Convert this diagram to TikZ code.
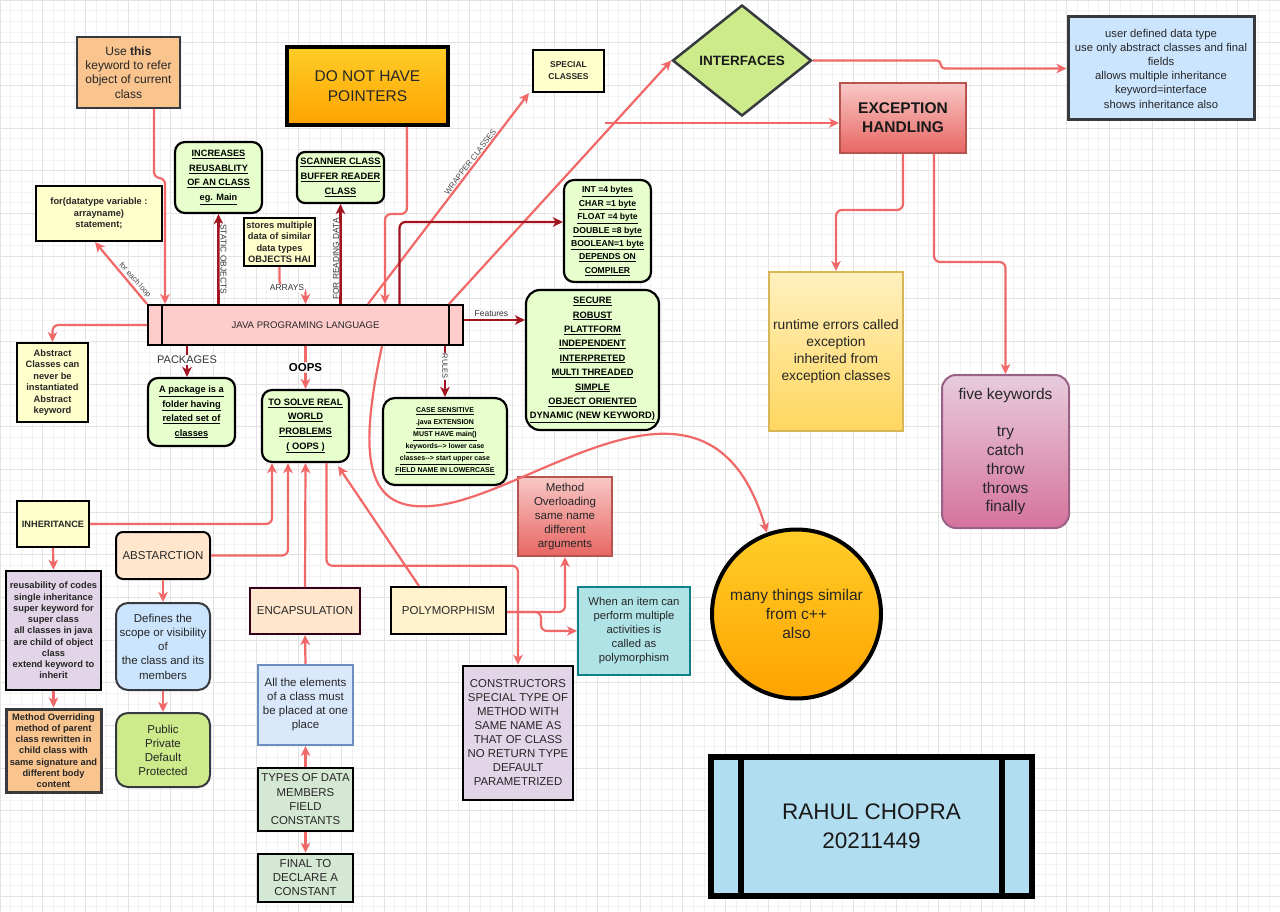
\documentclass[tikz,border=0pt]{standalone}
\usepackage{fontspec}
\setmainfont{Liberation Sans}
\usetikzlibrary{arrows.meta,shapes.geometric,calc}
\newcommand\fsz[2]{\fontsize{#1}{#2}\selectfont}
\newcommand\uln[1]{\underline{#1}}
\definecolor{lred}{RGB}{240,104,104}
\definecolor{dred}{RGB}{162,20,32}
\definecolor{dgray}{RGB}{54,57,61}
\definecolor{lyel}{RGB}{255,255,204}
\definecolor{lgreen}{RGB}{230,255,204}
\definecolor{peach}{RGB}{250,196,142}
\definecolor{orgtop}{RGB}{255,205,40}
\definecolor{orgbot}{RGB}{255,163,0}
\definecolor{jpink}{RGB}{255,204,204}
\definecolor{igreen}{RGB}{205,235,139}
\definecolor{ublue}{RGB}{204,229,255}
\definecolor{rtop}{RGB}{248,200,198}
\definecolor{rbot}{RGB}{232,102,98}
\definecolor{rdraw}{RGB}{184,84,80}
\definecolor{ytop}{RGB}{255,240,190}
\definecolor{ybot}{RGB}{255,214,95}
\definecolor{ydraw}{RGB}{214,182,86}
\definecolor{ptop}{RGB}{232,204,222}
\definecolor{pbot}{RGB}{213,115,157}
\definecolor{pdraw}{RGB}{153,97,133}
\definecolor{rblue}{RGB}{177,221,240}
\definecolor{lpurple}{RGB}{225,213,231}
\definecolor{lorange}{RGB}{255,230,204}
\definecolor{encd}{RGB}{51,0,26}
\definecolor{eblue}{RGB}{218,232,252}
\definecolor{eborder}{RGB}{108,142,191}
\definecolor{dgreen}{RGB}{213,232,212}
\definecolor{lcream}{RGB}{255,242,204}
\definecolor{teal1}{RGB}{176,227,230}
\definecolor{teal2}{RGB}{14,128,136}
\tikzset{
  box/.style={draw=black, inner sep=0pt, align=center, text=black!85, line width=2pt},
  gbox/.style={box, fill=lgreen, line width=2.2pt, rounded corners=10pt, text=black},
  lr/.style={draw=lred, line width=2.2pt, rounded corners=6pt, -{Stealth[length=10pt,width=9.5pt,inset=2.8pt]}},
  dr/.style={lr, draw=dred},
  elabel/.style={fill=white, inner sep=1pt, text=black!80},
  gminor/.style={draw=black!5, line width=0.5pt},
  gmajor/.style={draw=black!11, line width=0.6pt},
}
\begin{document}
\begin{tikzpicture}[x=1pt,y=-1pt]
\useasboundingbox (0,0) rectangle (1280,912);
\fill[white] (0,0) rectangle (1280,912);
\foreach \i in {0,...,120} {\draw[gminor] (\i*10.667,0) -- (\i*10.667,912);}
\foreach \j in {0,...,86} {\draw[gminor] (0,\j*10.667) -- (1280,\j*10.667);}
\foreach \i in {0,...,30} {\draw[gmajor] (\i*42.667,0) -- (\i*42.667,912);}
\foreach \j in {0,...,21} {\draw[gmajor] (0,\j*42.667) -- (1280,\j*42.667);}

% ---------- nodes ----------
\node[box, fill=peach, draw=dgray, minimum width=103pt, minimum height=71pt, font=\fsz{12}{14.2}] (thisb) at (128.5,72.5) {Use \textbf{this}\\keyword to refer\\object of current\\class};
\node[box, fill=lyel, minimum width=126pt, minimum height=55pt, font=\fsz{9.3}{11.3}\bfseries] (forb) at (99,213.5) {for(datatype variable :\\arrayname)\\statement;};
\node[gbox, minimum width=87pt, minimum height=71pt, font=\fsz{9.2}{14.5}\bfseries] (incr) at (218.5,177.5) {\uln{INCREASES}\\\uln{REUSABLITY}\\\uln{OF AN CLASS}\\\uln{eg. Main}};
\node[box, top color=orgtop, bottom color=orgbot, line width=4pt, minimum width=161pt, minimum height=78pt, font=\fsz{15.5}{19.5}] (ptr) at (367.5,86) {DO NOT HAVE\\POINTERS};
\node[box, fill=lyel, minimum width=71pt, minimum height=42pt, font=\fsz{8.5}{12}\bfseries] (spec) at (568.5,71) {SPECIAL\\CLASSES};
\node[gbox, rounded corners=8pt, minimum width=87pt, minimum height=51pt, font=\fsz{9.3}{15}\bfseries] (scan) at (340.5,177.5) {\uln{SCANNER CLASS}\\\uln{BUFFER READER}\\\uln{CLASS}};
\node[box, fill=lyel, minimum width=71pt, minimum height=48pt, font=\fsz{9.3}{11.5}\bfseries] (stor) at (279.5,242) {stores multiple\\data of similar\\data types\\OBJECTS HAI};
\node[gbox, minimum width=87pt, minimum height=102pt, font=\fsz{8.6}{13.4}\bfseries] (intb) at (607.5,231) {\uln{INT =4 bytes}\\\uln{CHAR =1 byte}\\\uln{FLOAT =4 byte}\\\uln{DOUBLE =8 byte}\\\uln{BOOLEAN=1 byte}\\\uln{DEPENDS ON}\\\uln{COMPILER}};
\node[box, fill=jpink, minimum width=315pt, minimum height=40pt, font=\fsz{9.6}{11}] (java) at (305.5,325) {JAVA PROGRAMING LANGUAGE};
\draw[line width=2pt] ([xshift=15pt]java.north west) -- ([xshift=15pt]java.south west);
\draw[line width=2pt] ([xshift=-15pt]java.north east) -- ([xshift=-15pt]java.south east);
\node[box, fill=lyel, minimum width=71pt, minimum height=79pt, font=\fsz{9.3}{11.4}\bfseries] (abst) at (52.5,382.5) {Abstract\\Classes can\\never be\\instantiated\\Abstract\\keyword};
\node[gbox, minimum width=87pt, minimum height=68pt, font=\fsz{9.3}{14.5}\bfseries] (pkg) at (191.5,412) {\uln{A package is a}\\\uln{folder having}\\\uln{related set of}\\\uln{classes}};
\node[gbox, minimum width=87pt, minimum height=72pt, font=\fsz{9.3}{14.7}\bfseries] (solve) at (305.5,426) {\uln{TO SOLVE REAL}\\\uln{WORLD}\\\uln{PROBLEMS}\\\uln{( OOPS )}};
\node[gbox, rounded corners=12pt, minimum width=124pt, minimum height=87pt, font=\fsz{7}{12}\bfseries] (caseb) at (445,441.5) {\uln{CASE SENSITIVE}\\\uln{.java EXTENSION}\\\uln{MUST HAVE main()}\\\uln{keywords-{}-> lower case}\\\uln{classes-{}-> start upper case}\\\uln{FIELD NAME IN LOWERCASE}};
\node[gbox, rounded corners=14pt, minimum width=133pt, minimum height=140pt, font=\fsz{9.3}{14.4}\bfseries] (feat) at (592.5,360) {\uln{SECURE}\\\uln{ROBUST}\\\uln{PLATTFORM}\\\uln{INDEPENDENT}\\\uln{INTERPRETED}\\\uln{MULTI THREADED}\\\uln{SIMPLE}\\\uln{OBJECT ORIENTED}\\\uln{DYNAMIC (NEW KEYWORD)}};
\node[diamond, draw=dgray, fill=igreen, line width=2.5pt, inner sep=0pt, minimum width=139pt, minimum height=111pt, font=\fsz{13.5}{16}\bfseries, text=black!90] (intf) at (742,60.5) {INTERFACES};
\node[box, fill=ublue, draw=dgray, line width=3pt, minimum width=186pt, minimum height=103pt, font=\fsz{11.3}{14.2}] (udef) at (1161,68.5) {user defined data type\\use only abstract classes and final\\fields\\allows multiple inheritance\\keyword=interface\\shows inheritance also};
\node[box, top color=rtop, bottom color=rbot, draw=rdraw, minimum width=126pt, minimum height=70pt, font=\fsz{15.5}{19}\bfseries, text=black!90] (exc) at (903,118) {EXCEPTION\\HANDLING};
\node[box, top color=ytop, bottom color=ybot, draw=ydraw, minimum width=134pt, minimum height=159pt, font=\fsz{13.8}{17}] (rte) at (836,351.5) {runtime errors called\\exception\\inherited from\\exception classes};
\node[box, top color=ptop, bottom color=pbot, draw=pdraw, rounded corners=14pt, minimum width=127pt, minimum height=153pt, font=\fsz{15.5}{18.8}] (five) at (1005.5,451.5) {five keywords\\\mbox{}\\try\\catch\\throw\\throws\\finally};
\node[circle, draw=black, line width=4pt, top color=orgtop, bottom color=orgbot, minimum size=169pt, inner sep=0pt, align=center, text=black!85, font=\fsz{15.5}{18.7}] (circ) at (796.5,614) {many things similar\\from c++\\also};
\node[box, fill=rblue, line width=6pt, minimum width=321pt, minimum height=139pt, font=\fsz{22.5}{29}, text=black!90] (rahul) at (871.5,826.5) {RAHUL CHOPRA\\20211449};
\draw[line width=6pt] ([xshift=33pt]rahul.north west) -- ([xshift=33pt]rahul.south west);
\draw[line width=6pt] ([xshift=-33pt]rahul.north east) -- ([xshift=-33pt]rahul.south east);

\node[box, fill=lyel, minimum width=72pt, minimum height=46pt, font=\fsz{9.2}{11}\bfseries] (inh) at (53,524) {INHERITANCE};
\node[box, fill=lpurple, line width=2.5pt, minimum width=95pt, minimum height=119pt, font=\fsz{9.3}{11.25}\bfseries] (reus) at (53.5,630.5) {reusability of codes\\single inheritance\\super keyword for\\super class\\all classes in java\\are child of object\\class\\extend keyword to\\inherit};
\node[box, fill=peach, draw=dgray, line width=3pt, minimum width=95pt, minimum height=83pt, font=\fsz{9.3}{11.2}\bfseries] (movr) at (53.5,750.5) {Method Overriding\\method of parent\\class rewritten in\\child class with\\same signature and\\different body\\content};
\node[box, fill=lorange, rounded corners=7pt, minimum width=94pt, minimum height=47pt, font=\fsz{11.5}{14}] (abstn) at (163,555.5) {ABSTARCTION};
\node[box, fill=ublue, draw=dgray, rounded corners=12pt, minimum width=94pt, minimum height=87pt, font=\fsz{11.5}{14.2}] (defs) at (163,646.5) {Defines the\\scope or visibility\\of\\the class and its\\members};
\node[box, fill=igreen, draw=dgray, rounded corners=12pt, minimum width=94pt, minimum height=74pt, font=\fsz{11.5}{14}] (pub) at (163,750) {Public\\Private\\Default\\Protected};
\node[box, fill=lorange, draw=encd, minimum width=110pt, minimum height=46pt, font=\fsz{11.5}{14}] (enc) at (305,611) {ENCAPSULATION};
\node[box, fill=eblue, draw=eborder, minimum width=95pt, minimum height=80pt, font=\fsz{11.5}{14}] (allel) at (305.5,705) {All the elements\\of a class must\\be placed at one\\place};
\node[box, fill=dgreen, line width=2.5pt, minimum width=95pt, minimum height=63pt, font=\fsz{11.4}{14.3}] (types) at (305.5,799.5) {TYPES OF DATA\\MEMBERS\\FIELD\\CONSTANTS};
\node[box, fill=dgreen, line width=2.5pt, minimum width=95pt, minimum height=48pt, font=\fsz{11.5}{14}] (fin) at (305.5,878) {FINAL TO\\DECLARE A\\CONSTANT};
\node[box, fill=lcream, minimum width=115pt, minimum height=47pt, font=\fsz{11.5}{14}] (poly) at (448.5,610.5) {POLYMORPHISM};
\node[box, top color=rtop, bottom color=rbot, draw=rdraw, minimum width=94pt, minimum height=79pt, font=\fsz{11.5}{14}] (movl) at (565,516.5) {Method\\Overloading\\same name\\different\\arguments};
\node[box, fill=teal1, draw=teal2, minimum width=112pt, minimum height=88pt, font=\fsz{11.3}{14}] (when) at (634,631) {When an item can\\perform multiple\\activities is\\called as\\polymorphism};
\node[box, fill=lpurple, line width=2.5pt, minimum width=110pt, minimum height=134pt, font=\fsz{11.4}{14}] (cons) at (518,733) {CONSTRUCTORS\\SPECIAL TYPE OF\\METHOD WITH\\SAME NAME AS\\THAT OF CLASS\\NO RETURN TYPE\\DEFAULT\\PARAMETRIZED};

% ---------- connectors ----------
\draw[lr] ($(thisb.south)+(25.5,0)$) -- ++(0,69) -| ($(java.north west)+(18,0)$);
\draw[lr] (java.north west) -- node[pos=0.32, anchor=south, rotate=-48, inner sep=1.5pt, font=\fsz{7.5}{9}, text=black!75] (lblfor) {for each loop} ($(forb.south)+(-4,0)$);
\draw[dr] (incr.south |- java.north) -- node[pos=0.5, anchor=south, rotate=-90, elabel, font=\fsz{8.4}{10}] (lblstat) {STATIC OBJECTS} (incr.south);
\draw[lr] (stor.south) |- ($(java.north)+(0,-17)$) -- (java.north);
\node[elabel, font=\fsz{8.5}{10}] (lblarr) at (287,288) {ARRAYS};
\draw[dr] (scan.south |- java.north) -- node[pos=0.45, anchor=south, rotate=90, elabel, inner sep=0.5pt, font=\fsz{8.4}{10}] (lblread) {FOR READING DATA} (scan.south);
\draw[lr] ($(ptr.south)+(39.5,0)$) -- ++(0,87) -| ($(java.north)+(79.5,0)$);
\draw[lr] ($(java.north)+(62.5,0)$) -- node[pos=0.66, sloped, above, inner sep=1pt, font=\fsz{8}{9.5}, text=black!70] (lblwrap) {WRAPPER CLASSES} ($(spec.south west)+(-3,0)$);
\draw[lr] ($(java.north east)+(-15,0)$) -- (intf.west);
\coordinate (exs) at (605,123);
\draw[lr] (exs) -- (exc.west |- exs);
\draw[dr] ($(java.north)+(94,0)$) |- ($(intb.west)+(0,-9)$);
\coordinate (fy) at ($(java.east)+(0,-5)$);
\draw[dr] (fy) -- node[pos=0.45, above, inner sep=2pt, font=\fsz{8.5}{10}, text=black!80] (lblfeat) {Features} (feat.west |- fy);
\draw[dr] (caseb.north |- java.south) -- node[pos=0.4, rotate=-90, elabel, font=\fsz{7.5}{9}] (lblrules) {RULES} (caseb.north);
\draw[lr] (java.west) -| (abst.north);
\draw[dr] ($(pkg.north |- java.south)+(-4.5,0)$) -- node[pos=0.45, elabel, font=\fsz{11}{13}] (lblpkg) {PACKAGES} ($(pkg.north)+(-4.5,0)$);
\draw[lr] (solve.north |- java.south) -- node[pos=0.5, elabel, font=\fsz{11.5}{13}\bfseries, text=black] (lbloops) {OOPS} (solve.north);
\draw[lr, sharp corners] ($(java.south)+(76.5,0)$) .. controls (355,470) and (370,515) .. (440,505) .. controls (540,490) and (710,340) .. (circ.110);
\draw[lr] (inh.east) -| ($(solve.south)+(-33.5,0)$);
\draw[lr] (abstn.east) -| ($(solve.south)+(-17.5,0)$);
\draw[lr] (enc.north) -- (solve.south);
\draw[lr] ($(poly.north west)+(29,0)$) -- ($(solve.south east)+(-12,3)$);
\draw[lr] ($(solve.south)+(21,0)$) |- ($(cons.north)+(0,-99)$) -- (cons.north);
\coordinate (pe) at ($(poly.east)+(0,1.5)$);
\draw[lr] (pe) -| (movl.south);
\draw[lr] (pe) -- ++(34,0) |- (when.west);
\draw[lr] (inh.south) -- (reus.north);
\draw[lr] (reus.south) -- (movr.north);
\draw[lr] (abstn.south) -- (defs.north);
\draw[lr] (defs.south) -- (pub.north);
\draw[lr] (allel.north) -- (enc.south);
\draw[lr] (types.north) -- (allel.south);
\draw[lr] (types.south) -- (fin.north);
\draw[lr, rounded corners=4pt] (intf.east) -- ++(128,0) |- (udef.west);
\draw[lr] (exc.south) |- ($(rte.north)+(0,-61)$) -- (rte.north);
\draw[lr] ($(exc.south)+(31,0)$) |- ($(five.north)+(0,-112)$) -- (five.north);
\end{tikzpicture}
\end{document}
